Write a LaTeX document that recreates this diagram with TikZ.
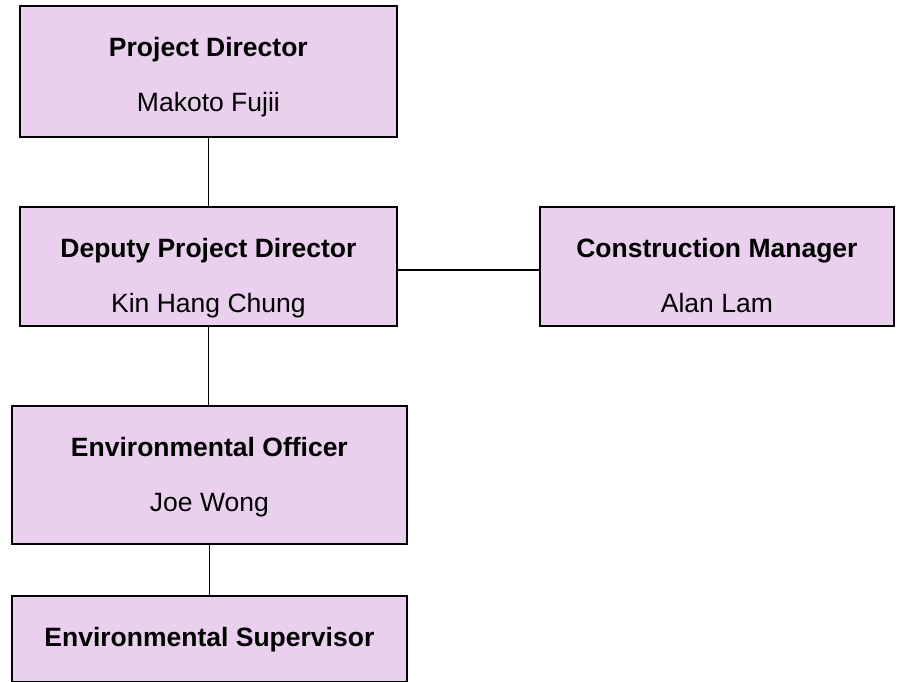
\documentclass[tikz,border=0pt]{standalone}
\usepackage{fontspec}
\setmainfont{Liberation Sans}
\usetikzlibrary{positioning}
\definecolor{orgfill}{HTML}{E9D1ED}
\tikzset{
  post/.style={draw=black, line width=1.8pt, fill=orgfill,
    anchor=north west, inner sep=0pt},
  ptitle/.style={anchor=base, font=\fontsize{26.5}{31}\selectfont\bfseries},
  pname/.style={anchor=base, font=\fontsize{26.5}{31}\selectfont},
  link/.style={draw=black, line width=1.8pt}
}

\begin{document}
\begin{tikzpicture}[x=1pt,y=-1pt]
\useasboundingbox (0,0) rectangle (897,682);

% boxes
\node[post, minimum width=377pt, minimum height=131pt] (pd)  at (19,5)    {};
\node[post, minimum width=377pt, minimum height=119pt] (dpd) at (19,206)  {};
\node[post, minimum width=354pt, minimum height=119pt] (cm)  at (539,206) {};
\node[post, minimum width=395pt, minimum height=138pt] (eo)  at (11,405)  {};
\node[post, minimum width=395pt, minimum height=86pt]  (es)  at (11,595)  {};

% titles and names
\node[ptitle] (pdTitle)  at ([yshift=-51.5pt]pd.north)  {Project Director};
\node[pname]  (pdName)   at ([yshift=-106.5pt]pd.north) {Makoto Fujii};
\node[ptitle] (dpdTitle) at ([yshift=-51.5pt]dpd.north) {Deputy Project Director};
\node[pname]  (dpdName)  at ([yshift=-106.5pt]dpd.north) {Kin Hang Chung};
\node[ptitle] (cmTitle)  at ([yshift=-51.5pt]cm.north)  {Construction Manager};
\node[pname]  (cmName)   at ([yshift=-106.5pt]cm.north) {Alan Lam};
\node[ptitle] (eoTitle)  at ([yshift=-51.5pt]eo.north)  {Environmental Officer};
\node[pname]  (eoName)   at ([yshift=-106.5pt]eo.north) {Joe Wong};
\node[ptitle] (esTitle)  at ([yshift=-51pt]es.north)    {Environmental Supervisor};

% links
\draw[link] (pd.south) -- (dpd.north);
\draw[link] ([yshift=-3.5pt]dpd.east) -- ([yshift=-3.5pt]dpd.east -| cm.west);
\draw[link] (dpd.south) -- (dpd.south |- eo.north);
\draw[link] (eo.south) -- (eo.south |- es.north);
\end{tikzpicture}
\end{document}
